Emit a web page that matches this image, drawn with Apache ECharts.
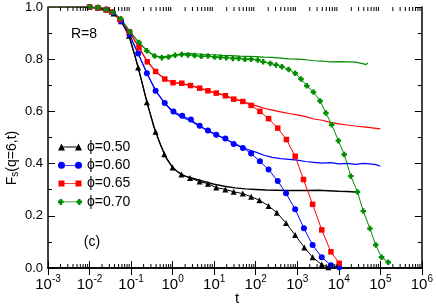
<!DOCTYPE html>
<html><head><meta charset="utf-8">
<script src="https://cdn.jsdelivr.net/npm/echarts@6/dist/echarts.min.js"></script>
<style>html,body{margin:0;padding:0;background:#fff}#c{width:436px;height:306px}</style>
</head><body><div id="c"></div>
<script>
const FONT = '"Liberation Sans", Arial, sans-serif';
// log10(t) positions and F_s values
// phi=0.50 (symbols)
const logT50m = [-2.0,-1.8,-1.6,-1.42,-1.24,-1.05,-0.83,-0.62,-0.41,-0.20,0.0,0.21,0.42,0.65,0.85,1.05,1.27,1.47,1.69,1.89,2.09,2.31,2.51,2.73,2.95,3.17,3.37,3.59,3.75];
const fs50m = [1.0,0.998,0.99,0.975,0.945,0.89,0.768,0.635,0.522,0.436,0.385,0.358,0.345,0.331,0.323,0.308,0.301,0.292,0.285,0.273,0.260,0.238,0.212,0.172,0.126,0.079,0.041,0.013,0.003];
// phi=0.60 (symbols)
const logT60m = [-2.0,-1.8,-1.6,-1.44,-1.24,-1.04,-0.83,-0.62,-0.41,-0.19,0.02,0.23,0.44,0.65,0.85,1.05,1.27,1.47,1.69,1.89,2.10,2.31,2.53,2.73,2.95,3.16,3.37,3.59,3.81,4.01];
const fs60m = [1.0,0.997,0.99,0.978,0.945,0.895,0.822,0.746,0.679,0.632,0.600,0.583,0.569,0.545,0.527,0.511,0.496,0.475,0.460,0.439,0.409,0.377,0.333,0.286,0.225,0.152,0.088,0.041,0.011,0.003];
// phi=0.65 (symbols)
const logT65m = [-2.0,-1.8,-1.6,-1.47,-1.27,-1.04,-0.81,-0.61,-0.41,-0.19,0.01,0.22,0.43,0.65,0.85,1.05,1.27,1.47,1.69,1.89,2.10,2.31,2.53,2.74,2.95,3.15,3.37,3.59,3.81,4.01];
const fs65m = [1.0,0.997,0.99,0.981,0.952,0.905,0.844,0.790,0.753,0.724,0.710,0.708,0.699,0.689,0.679,0.670,0.660,0.647,0.638,0.623,0.600,0.572,0.536,0.492,0.428,0.339,0.244,0.146,0.062,0.018];
// phi=0.70 (symbols)
const logT70m = [-2.0,-1.8,-1.6,-1.45,-1.25,-1.03,-0.81,-0.62,-0.43,-0.26,-0.10,0.06,0.22,0.37,0.53,0.69,0.85,1.01,1.15,1.29,1.45,1.59,1.74,1.89,2.05,2.18,2.35,2.49,2.63,2.79,2.95,3.09,3.23,3.39,3.55,3.69,3.83,3.99,4.13,4.29,4.45,4.59,4.75,4.89,5.03,5.19];
const fs70m = [1.0,0.998,0.99,0.98,0.955,0.905,0.864,0.832,0.812,0.806,0.808,0.815,0.818,0.816,0.814,0.811,0.812,0.808,0.807,0.806,0.803,0.803,0.800,0.800,0.797,0.790,0.784,0.778,0.771,0.761,0.746,0.724,0.698,0.674,0.640,0.594,0.549,0.488,0.435,0.352,0.291,0.218,0.151,0.088,0.041,0.022];
// plain lines (no symbols)
const logT50p = [-3,-2.5,-2,-1.6,-1.4,-1.2,-1.05,-0.9,-0.75,-0.6,-0.45,-0.3,-0.15,0,0.15,0.3,0.5,0.75,1,1.25,1.5,1.75,2,2.25,2.5,2.75,3,3.25,3.5,3.75,4,4.2,4.4];
const fs50p = [1,1,1,0.99,0.975,0.935,0.89,0.81,0.72,0.625,0.54,0.475,0.42,0.385,0.365,0.352,0.343,0.332,0.321,0.313,0.307,0.303,0.301,0.299,0.298,0.297,0.297,0.297,0.298,0.296,0.294,0.293,0.291];
const logT60p = [-3,-2.5,-2,-1.6,-1.4,-1.2,-1,-0.8,-0.6,-0.4,-0.2,0,0.2,0.4,0.6,0.8,1,1.2,1.4,1.6,1.8,2,2.2,2.4,2.6,2.8,3,3.2,3.4,3.6,3.8,4,4.2,4.4,4.6,4.8,4.9,5];
const fs60p = [1,1,1,0.99,0.975,0.935,0.88,0.81,0.74,0.678,0.633,0.598,0.58,0.566,0.548,0.53,0.514,0.499,0.484,0.468,0.455,0.444,0.432,0.424,0.419,0.416,0.413,0.408,0.405,0.402,0.404,0.399,0.401,0.397,0.401,0.398,0.396,0.39];
const logT65p = [-3,-2.5,-2,-1.6,-1.4,-1.2,-1,-0.8,-0.6,-0.4,-0.2,0,0.2,0.4,0.6,0.8,1,1.2,1.4,1.6,1.8,2,2.2,2.4,2.6,2.8,3,3.2,3.4,3.6,3.8,4,4.2,4.4,4.6,4.8,4.9,5];
const fs65p = [1,1,1,0.99,0.976,0.94,0.895,0.842,0.79,0.752,0.725,0.711,0.707,0.700,0.692,0.682,0.672,0.664,0.653,0.643,0.632,0.622,0.612,0.605,0.598,0.592,0.587,0.580,0.571,0.566,0.558,0.552,0.548,0.544,0.541,0.537,0.535,0.533];
const logT70p = [-3,-2.5,-2,-1.6,-1.4,-1.2,-1,-0.8,-0.6,-0.4,-0.2,0,0.2,0.4,0.6,0.8,1,1.2,1.4,1.6,1.8,2,2.2,2.4,2.6,2.8,3,3.2,3.4,3.6,3.8,4,4.2,4.4,4.6,4.65,4.7];
const fs70p = [1,1,1,0.99,0.975,0.945,0.9,0.862,0.83,0.81,0.81,0.815,0.82,0.822,0.82,0.818,0.817,0.815,0.814,0.812,0.811,0.81,0.808,0.807,0.804,0.801,0.8,0.798,0.794,0.793,0.79,0.791,0.79,0.789,0.782,0.779,0.786];

const seriesNames = ['\u03d5=0.50','\u03d5=0.60','\u03d5=0.65','\u03d5=0.70'];
const colors = ['#000000','#0000ff','#ff0000','#008c00'];
const xTickExps = [-3,-2,-1,0,1,2,3,4,5,6];
const yTicks = [0,0.2,0.4,0.6,0.8,1.0];

const crossPath = 'path://M2,0H5V2H7V5H5V7H2V5H0V2H2Z';
const symbols = ['triangle','circle','rect',crossPath];
const symSizes = [6,6,5.5,5.5];
const legendIcons = [
  'path://M0,7L3.5,0L7,7ZM3.5,3.1H20.5V3.9H3.5ZM17,7L20.5,0L24,7Z',
  'path://M0,3.5A3.5,3.5,0,1,1,7,3.5A3.5,3.5,0,1,1,0,3.5ZM3.5,3.1H20.5V3.9H3.5ZM17,3.5A3.5,3.5,0,1,1,24,3.5A3.5,3.5,0,1,1,17,3.5Z',
  'path://M0.5,0.5H6.5V6.5H0.5ZM3.5,3.1H20.5V3.9H3.5ZM17.5,0.5H23.5V6.5H17.5ZM0,0H0.01V0.01H0ZM23.99,6.99H24V7H23.99Z',
  'path://M1.5,0.5H4V2.2H5.5V4.8H4V6.5H1.5V4.8H0V2.2H1.5ZM3,3.1H21V3.9H3ZM20,0.5H22.5V2.2H24V4.8H22.5V6.5H20V4.8H18.5V2.2H20ZM0,0H0.01V0.01H0ZM23.99,6.99H24V7H23.99Z'
];

function zip(lt, v){ return lt.map((e,i)=>[Math.pow(10,e), v[i]]); }
const markerSets = [[logT50m,fs50m],[logT60m,fs60m],[logT65m,fs65m],[logT70m,fs70m]];
const lineSets = [[logT50p,fs50p],[logT60p,fs60p],[logT65p,fs65p],[logT70p,fs70p]];

// minor log ticks (2..9 x 10^e)
const minorTicks = [];
for (let e=-3;e<6;e++) for (let k=2;k<10;k++) minorTicks.push([k*Math.pow(10,e),0]);

const series = [];
lineSets.forEach((s,i)=>{
  series.push({type:'line', name:seriesNames[i]+'_plain', data:zip(s[0],s[1]), showSymbol:false, symbol:'none',
    lineStyle:{color:colors[i], width: i===0?1.4:1.2}, z:2, animation:false, silent:true});
});
markerSets.forEach((s,i)=>{
  series.push({type:'line', name:seriesNames[i], data:zip(s[0],s[1]), symbol:symbols[i], symbolSize:symSizes[i],
    showAllSymbol:true, lineStyle:{color:colors[i], width:1}, itemStyle:{color:colors[i], borderWidth:0}, z:3, animation:false});
});
series.push({type:'custom', data:minorTicks, silent:true, z:5, animation:false, clip:false,
  renderItem:function(params, api){
    const t = api.value(0);
    const b = api.coord([t,0]); const tp = api.coord([t,1]);
    return {type:'group', children:[
      {type:'line', shape:{x1:b[0],y1:b[1],x2:b[0],y2:b[1]-4}, style:{stroke:'#000',lineWidth:1}},
      {type:'line', shape:{x1:tp[0],y1:tp[1],x2:tp[0],y2:tp[1]+4}, style:{stroke:'#000',lineWidth:1}}
    ]};
  }});

const axisLine = {show:true, lineStyle:{color:'#000', width:1.5}};
const option = {
  animation:false,
  backgroundColor:'#fff',
  grid:{left:48, right:13, top:7, bottom:38, containLabel:false},
  xAxis:[
    {type:'log', logBase:10, min:1e-3, max:1e6, interval:1, axisLine:axisLine,
     axisTick:{inside:true, length:7, lineStyle:{color:'#000', width:1}}, splitLine:{show:false},
     axisLabel:{margin:7, color:'#000', fontFamily:FONT,
       formatter:function(v){ const e=Math.round(Math.log10(v)); return '{b|10}{s|'+e+'}'; },
       rich:{b:{fontSize:15, fontFamily:FONT, color:'#000', lineHeight:17, verticalAlign:'bottom'},
             s:{fontSize:10, fontFamily:FONT, color:'#000', lineHeight:10, verticalAlign:'bottom', padding:[0,0,8,0]}}}},
    {type:'log', logBase:10, min:1e-3, max:1e6, interval:1, position:'top', axisLine:axisLine,
     axisTick:{inside:true, length:7, lineStyle:{color:'#000', width:1}}, axisLabel:{show:false}, splitLine:{show:false}}
  ],
  yAxis:[
    {type:'value', min:0, max:1, interval:0.2, axisLine:axisLine,
     axisTick:{inside:true, length:7, lineStyle:{color:'#000'}}, minorTick:{show:true, splitNumber:2, length:4, lineStyle:{color:'#000'}},
     splitLine:{show:false}, minorSplitLine:{show:false},
     axisLabel:{margin:5, color:'#000', fontSize:13, fontFamily:FONT, formatter:v=>v.toFixed(1)}},
    {type:'value', min:0, max:1, interval:0.2, position:'right', axisLine:axisLine,
     axisTick:{inside:true, length:7, lineStyle:{color:'#000'}}, minorTick:{show:true, splitNumber:2, length:4, lineStyle:{color:'#000'}},
     splitLine:{show:false}, axisLabel:{show:false}}
  ],
  legend:{orient:'vertical', left:58, top:140, padding:0, itemGap:4.3, itemWidth:24, itemHeight:7, itemStyle:{borderWidth:0},
    textStyle:{fontSize:14, fontFamily:FONT, color:'#000', padding:[0,0,0,0]},
    data:seriesNames.map((n,i)=>({name:n, icon:legendIcons[i]}))},
  graphic:[
    {type:'text', x:84, y:34, style:{text:'R=8', fontSize:14, fontFamily:FONT, fill:'#000', align:'center', verticalAlign:'middle'}},
    {type:'text', x:92, y:242, style:{text:'(c)', fontSize:14, fontFamily:FONT, fill:'#000', align:'center', verticalAlign:'middle'}},
    {type:'text', x:12, y:158, rotation:Math.PI/2, style:{text:'F{s|s}(q=6,t)', fontSize:14, fontFamily:FONT, fill:'#000', align:'center', verticalAlign:'middle',
      rich:{s:{fontSize:10, fontFamily:FONT, fill:'#000', verticalAlign:'bottom', padding:[6,0,0,0]}}}},
    {type:'text', x:237, y:299, style:{text:'t', fontSize:15, fontFamily:FONT, fill:'#000', align:'center', verticalAlign:'middle'}}
  ],
  series:series
};
const chart = echarts.init(document.getElementById('c'), null, {renderer:'canvas'});
chart.setOption(option);
</script></body></html>
